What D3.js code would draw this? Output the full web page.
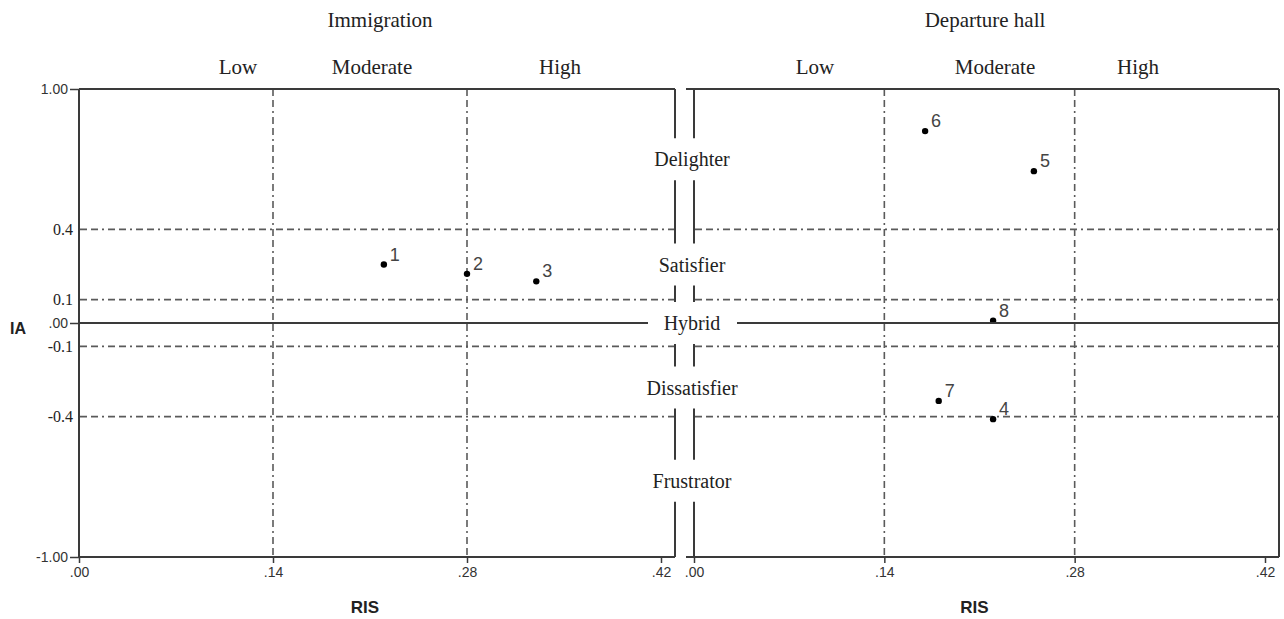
<!DOCTYPE html>
<html>
<head>
<meta charset="utf-8">
<script src="https://cdn.jsdelivr.net/npm/d3@7"></script>
<style>
  body { margin: 0; background: #fff; }
  svg { display: block; }
  .serif { font-family: "Liberation Serif", "Times New Roman", serif; fill: #222; }
  .sans { font-family: "Liberation Sans", Arial, sans-serif; }
</style>
</head>
<body>
<svg id="chart" width="1284" height="619"></svg>
<script>
// Panels and their points (RIS on x, IA on y)
const panels = ["Immigration", "Departure hall"];
const levels = ["Low", "Moderate", "High"];
const immigrationIds = [1, 2, 3];
const immigrationRIS = [0.220, 0.280, 0.330];
const immigrationIA = [0.250, 0.210, 0.178];
const departureIds = [6, 5, 8, 7, 4];
const departureRIS = [0.170, 0.250, 0.220, 0.180, 0.220];
const departureIA = [0.820, 0.649, 0.010, -0.333, -0.411];

// Axis ticks and the category bands on IA
const risTicks = [0, 0.14, 0.28, 0.42];
const risCuts = [0.14, 0.28];
const iaTicks = [-1, 0, 1];
const iaCuts = [0.4, 0.1, -0.1, -0.4];
const categories = ["Delighter", "Satisfier", "Hybrid", "Dissatisfier", "Frustrator"];
const bandEdges = [1, 0.4, 0.1, -0.1, -0.4, -1];

const svg = d3.select("#chart");
const dashPattern = "7,4,7,4,2,4";
const frameColor = "#3a3a3a";
const dashColor = "#5a5a5a";

const y = d3.scaleLinear().domain([-1, 1]).range([557, 89]);
const xLeft = d3.scaleLinear().domain([0, 0.42]).range([79, 661]);
const xRight = d3.scaleLinear().domain([0, 0.42]).range([694, 1265]);

// category label centres = middle of each IA band (lower two sit a little off-centre)
const catNudge = [0, 0, 0, 6, -6];
const catY = categories.map(function(c, i){ return y((bandEdges[i] + bandEdges[i+1]) / 2) + catNudge[i]; });
const gapHalf = 21;

// split a vertical run into pieces that skip the category labels
function verticalPieces(top, bottom){
  let pieces = [], start = top;
  catY.forEach(function(cy){
    pieces.push([start, cy - gapHalf]);
    start = cy + gapHalf;
  });
  pieces.push([start, bottom]);
  return pieces;
}

function line(g, x1, y1, x2, y2, color, width, dash){
  g.append("line")
    .attr("x1", x1).attr("y1", y1).attr("x2", x2).attr("y2", y2)
    .attr("stroke", color).attr("stroke-width", width)
    .attr("stroke-dasharray", dash || null);
}

const risFormat = function(d){ return d.toFixed(2).replace(/^0/, ""); };

function drawPanel(x, frameLeft, frameRight, ids, ris, ia, title, levelX){
  const g = svg.append("g");

  // dashed reference lines
  risCuts.forEach(function(v){
    line(g, x(v), y(1), x(v), y(-1), dashColor, 1.6, dashPattern);
  });
  iaCuts.forEach(function(v){
    line(g, x(0) + 1, y(v), frameRight, y(v), dashColor, 1.6, dashPattern);
  });

  // bottom axis
  const xAxis = g.append("g")
      .attr("transform", "translate(0," + y(-1) + ")")
      .call(d3.axisBottom(x).tickValues(risTicks).tickFormat(risFormat).tickSize(6).tickPadding(4));
  xAxis.select(".domain").remove();
  xAxis.selectAll("line").attr("stroke", frameColor).attr("stroke-width", 1.5);
  xAxis.selectAll("text").attr("class", "sans").attr("font-size", 14).attr("fill", "#333");

  // frame
  line(g, frameLeft, y(1), frameRight, y(1), frameColor, 2);
  line(g, frameLeft, y(-1), frameRight, y(-1), frameColor, 2);

  // titles
  g.append("text").attr("class", "serif")
    .attr("x", levelX[3]).attr("y", 27)
    .attr("text-anchor", "middle").attr("font-size", 21)
    .text(title);
  levels.forEach(function(l, i){
    g.append("text").attr("class", "serif")
      .attr("x", levelX[i]).attr("y", 74)
      .attr("text-anchor", "middle").attr("font-size", 21)
      .text(l);
  });
  g.append("text").attr("class", "sans")
    .attr("x", (x(0) + x(0.42)) / 2 - 5).attr("y", 613)
    .attr("text-anchor", "middle").attr("font-size", 17).attr("font-weight", "bold")
    .attr("fill", "#222")
    .text("RIS");

  // points
  const pts = ids.map(function(id, i){ return {id: id, ris: ris[i], ia: ia[i]}; });
  g.selectAll("circle.pt").data(pts).enter().append("circle")
    .attr("class", "pt")
    .attr("cx", function(d){ return x(d.ris); })
    .attr("cy", function(d){ return y(d.ia); })
    .attr("r", 3.2)
    .attr("fill", "#000");
  g.selectAll("text.pt").data(pts).enter().append("text")
    .attr("class", "sans pt")
    .attr("x", function(d){ return x(d.ris) + 6; })
    .attr("y", function(d){ return y(d.ia) - 4; })
    .attr("font-size", 18).attr("fill", "#444")
    .text(function(d){ return d.id; });
  return g;
}

const left = drawPanel(xLeft, 79, 675, immigrationIds, immigrationRIS, immigrationIA, panels[0], [238, 372, 560, 380]);
const right = drawPanel(xRight, 686, 1279, departureIds, departureRIS, departureIA, panels[1], [815, 995, 1138, 985]);

// left y axis
const yAxis = svg.append("g")
    .attr("transform", "translate(79,0)")
    .call(d3.axisLeft(y).tickValues(iaTicks)
      .tickFormat(function(d){ return d === 0 ? ".00" : d.toFixed(2); })
      .tickSize(9).tickPadding(2));
yAxis.select(".domain").remove();
yAxis.selectAll("line").attr("stroke", frameColor).attr("stroke-width", 1.5);
yAxis.selectAll("text").attr("class", "sans").attr("font-size", 14).attr("fill", "#333");
line(svg, 79, y(1), 79, y(-1), frameColor, 2);

// serif labels for the band cut-offs
const cutAxis = svg.append("g")
    .attr("transform", "translate(79,0)")
    .call(d3.axisLeft(y).tickValues(iaCuts)
      .tickFormat(function(d){ return d.toFixed(1); })
      .tickSize(0).tickPadding(6));
cutAxis.select(".domain").remove();
cutAxis.selectAll("text").attr("class", "serif").attr("font-size", 16).attr("fill", "#222");

svg.append("text").attr("class", "sans")
  .attr("x", 18).attr("y", 334)
  .attr("text-anchor", "middle").attr("font-size", 16).attr("font-weight", "bold")
  .attr("fill", "#222")
  .text("IA");

// zero line, broken for the Hybrid label
const midX = 692;
line(svg, 79, y(0), midX - 44, y(0), frameColor, 1.8);
line(svg, midX + 45, y(0), 1279, y(0), frameColor, 1.8);

// the two inner frame edges, broken for the category labels
verticalPieces(y(1), y(-1)).forEach(function(p){
  line(svg, 675, p[0], 675, p[1], frameColor, 2);
  line(svg, 694, p[0], 694, p[1], frameColor, 2);
});
line(svg, 1279, y(1), 1279, y(-1), frameColor, 2);

// category labels
svg.selectAll("text.cat").data(categories).enter().append("text")
  .attr("class", "serif cat")
  .attr("x", midX).attr("y", function(d, i){ return catY[i] + 7; })
  .attr("text-anchor", "middle").attr("font-size", 20)
  .text(function(d){ return d; });
</script>
</body>
</html>
